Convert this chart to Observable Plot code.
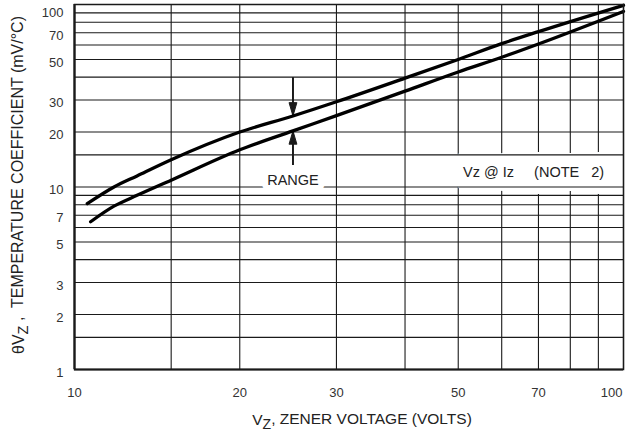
<!DOCTYPE html>
<html>
<head>
<meta charset="utf-8">
<script src="https://cdn.jsdelivr.net/npm/d3@7"></script>
<script src="https://cdn.jsdelivr.net/npm/@observablehq/plot@0.6"></script>
<style>
  html, body { margin: 0; padding: 0; background: #fff; }
</style>
</head>
<body>
<div id="chart"></div>
<script>
// ---- data ----
const xGrid = [10, 15, 20, 30, 40, 50, 60, 70, 80, 90, 100];
const yGrid = [1, 1.5, 2, 3, 4, 5, 6, 7, 8, 9, 10, 15, 20, 30, 40, 50, 60, 70, 80, 90, 100];
const xTickLabels = [10, 20, 30, 50, 70];
const xLastTick = [100];
const yTickLabels = [1, 2, 3, 5, 7, 10, 20, 30, 50, 70];
const yTopTick = [100];

const upperVz = [10.55, 11.8, 13, 15, 20, 25, 30, 40, 50, 60, 70, 100];
const upperTc = [8.1, 10, 11.5, 14.1, 20, 24.5, 29.3, 39.5, 50, 61, 71, 99];
const lowerVz = [10.7, 11.8, 13, 15, 20, 25, 30, 40, 50, 60, 70, 100];
const lowerTc = [6.45, 7.85, 9.0, 10.9, 16, 20.3, 24.6, 33.5, 42.7, 51.4, 60.8, 91.7];

// RANGE annotation (data units)
const rangeVz = 25;
const rangeLabelTc = 10.9;
const arrowDown = { from: 40, to: 24.5 };
const arrowUp = { from: 13.2, to: 20.3 };

const noteText = "Vz\u00a0@\u00a0Iz\u00a0\u00a0\u00a0\u00a0\u00a0(NOTE\u00a0\u00a0\u00a02)";
const noteVz = 51;
const noteTc = 12.1;

const xTitle = "X_TITLE";
const yTitle = "Y_TITLE";

// ---- tables ----
const upper = upperVz.map((v, i) => ({ vz: v, tc: upperTc[i] }));
const lower = lowerVz.map((v, i) => ({ vz: v, tc: lowerTc[i] }));
const shafts = [
  { x: rangeVz, y1: arrowDown.from, y2: arrowDown.to },
  { x: rangeVz, y1: arrowUp.from, y2: arrowUp.to }
];
const heads = [
  { x: rangeVz, y: arrowDown.to, rot: 180 },
  { x: rangeVz, y: arrowUp.to, rot: 0 }
];

const headShape = {
  draw(context, l, r) {
    context.moveTo(-r, 0);
    context.lineTo(0, -l);
    context.lineTo(r, 0);
    context.closePath();
  }
};

const ink = "#1a1a1a";
const font = "'Liberation Sans', Arial, Helvetica, sans-serif";
const tickStyle = { fontSize: 13, fill: "#333", text: d => String(d) };

const svg = Plot.plot({
  width: 632,
  height: 434,
  marginLeft: 74,
  marginRight: 9,
  marginTop: 4,
  marginBottom: 65,
  style: { fontFamily: font, fontSize: "13px", background: "#fff", color: ink },
  x: { type: "log", domain: [10, 100], axis: null },
  y: { type: "log", domain: [1, 100], axis: null },
  marks: [
    Plot.ruleX(xGrid, { stroke: ink, strokeWidth: 1.1 }),
    Plot.text([noteText], {
      x: noteVz, y: noteTc, text: d => d, textAnchor: "start",
      fontSize: 14.5, fill: "#222", stroke: "white", strokeWidth: 28,
      strokeLinejoin: "round", paintOrder: "stroke"
    }),
    Plot.ruleY(yGrid, { stroke: ink, strokeWidth: 1.1 }),
    Plot.text(["RANGE"], {
      x: rangeVz, y: rangeLabelTc, text: d => d,
      fontSize: 14.5, fill: "#222", stroke: "white", strokeWidth: 12,
      strokeLinejoin: "round", paintOrder: "stroke"
    }),
    Plot.link(shafts, { x1: "x", x2: "x", y1: "y1", y2: "y2", stroke: ink, strokeWidth: 2 }),
    Plot.vector(heads, {
      x: "x", y: "y", rotate: "rot", length: 13, r: 3.8, anchor: "end",
      shape: headShape, fill: ink, stroke: ink, strokeWidth: 1
    }),
    Plot.line(upper, { x: "vz", y: "tc", stroke: "#000", strokeWidth: 3.3, curve: "monotone-x" }),
    Plot.line(lower, { x: "vz", y: "tc", stroke: "#000", strokeWidth: 3.3, curve: "monotone-x" }),
    Plot.frame({ stroke: ink, strokeWidth: 1.5 }),
    Plot.ruleX([10], { stroke: ink, strokeWidth: 2.2 }),
    Plot.ruleY([1], { stroke: ink, strokeWidth: 2.2 }),
    // tick labels
    Plot.text(xTickLabels, { ...tickStyle, x: d => d, frameAnchor: "bottom", lineAnchor: "top", dy: 18, textAnchor: "middle" }),
    Plot.text(xLastTick, { ...tickStyle, x: d => d, frameAnchor: "bottom", lineAnchor: "top", dy: 18, textAnchor: "end", dx: -1 }),
    Plot.text(yTickLabels, { ...tickStyle, y: d => d, frameAnchor: "left", textAnchor: "end", dx: -11, dy: 3 }),
    Plot.text(yTopTick, { ...tickStyle, y: d => d, frameAnchor: "left", textAnchor: "end", dx: -11, dy: 8 }),
    // titles
    Plot.text([xTitle], { frameAnchor: "bottom", text: d => d, dy: 55, dx: 13, fontSize: 15.5, fill: "#222", textAnchor: "middle" }),
    Plot.text([yTitle], { frameAnchor: "left", text: d => d, dx: -56, dy: -2, rotate: -90, fontSize: 16, fill: "#222", textAnchor: "middle" })
  ]
});

// subscripts in the axis titles
d3.select(svg).selectAll("text").each(function () {
  const t = d3.select(this);
  const c = this.textContent;
  if (c === xTitle) {
    t.text(null);
    t.append("tspan").text("V");
    t.append("tspan").attr("dy", "0.3em").attr("font-size", "14px").text("Z");
    t.append("tspan").attr("dy", "-0.3em").text(", ZENER VOLTAGE (VOLTS)");
  } else if (c === yTitle) {
    t.text(null);
    t.append("tspan").text("\u03b8V");
    t.append("tspan").attr("dy", "0.3em").attr("font-size", "14.5px").text("Z");
    t.append("tspan").attr("dy", "-0.3em").text("\u00a0,\u00a0 TEMPERATURE COEFFICIENT (mV/\u00b0C)");
  }
});

document.getElementById("chart").appendChild(svg);
</script>
</body>
</html>
